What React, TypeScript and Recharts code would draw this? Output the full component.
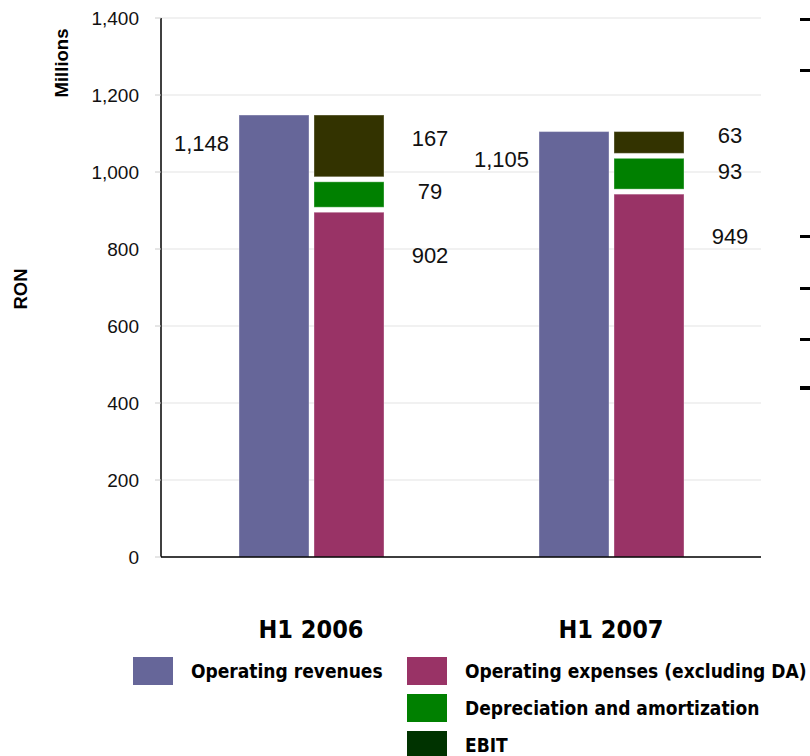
import React from "react";
import { BarChart, Bar, XAxis, YAxis, CartesianGrid, LabelList, Label } from "recharts";

const categories = ["H1 2006", "H1 2007"];
const revenues = [1148, 1105];
const opex = [902, 949];
const depreciation = [79, 93];
const ebit = [167, 63];
const yTicks = [0, 200, 400, 600, 800, 1000, 1200, 1400];

const data = categories.map((name, i) => ({
  name,
  revenues: revenues[i],
  opex: opex[i],
  da: depreciation[i],
  ebit: ebit[i],
}));

const legendItems = [
  { label: "Operating revenues", color: "#666699" },
  { label: "Operating expenses (excluding DA)", color: "#993366" },
  { label: "Depreciation and amortization", color: "#008000" },
  { label: "EBIT", color: "#003300" },
];

const sans = '"Liberation Sans", Arial, sans-serif';
const cond = '"DejaVu Sans Condensed", "DejaVu Sans", sans-serif';
const fmt = (v: number) => v.toLocaleString("en-US");

// stacked segments are separated by a white gap, so trim the shared edges
const segment = (top: number, bottom: number) => (props: any) => {
  const { x, y, width, height, fill } = props;
  return (
    <rect
      x={x}
      y={y + top}
      width={width}
      height={Math.max(0, height - top - bottom)}
      fill={fill}
      stroke="rgba(255,255,255,0.35)"
      strokeWidth={1}
    />
  );
};

const revenueLabel = (props: any) => {
  const { x, y, value } = props;
  return (
    <text x={x - 10} y={y + 30} textAnchor="end" dominantBaseline="middle" fontFamily={sans} fontSize={22} fill="#111">
      {fmt(value)}
    </text>
  );
};

const sideLabel = (dy: (y: number, h: number) => number) => (props: any) => {
  const { x, y, width, height, value } = props;
  return (
    <text x={x + width + 46} y={dy(y, height)} textAnchor="middle" dominantBaseline="middle" fontFamily={sans} fontSize={22} fill="#111">
      {fmt(value)}
    </text>
  );
};

const axisTitles = () => (
  <g fontFamily={sans} fontWeight="bold" fontSize={18.5} fill="#000">
    <text x={63} y={63} transform="rotate(-90 63 63)" textAnchor="middle" dominantBaseline="middle">
      Millions
    </text>
    <text x={22} y={289} transform="rotate(-90 22 289)" textAnchor="middle" dominantBaseline="middle">
      RON
    </text>
  </g>
);

const dashes = [
  { top: 18, h: 3 },
  { top: 69, h: 3 },
  { top: 235, h: 3 },
  { top: 287, h: 3 },
  { top: 338, h: 3 },
  { top: 386, h: 4 },
];

export default function App() {
  return (
    <div style={{ position: "absolute", left: 0, top: 0, width: 810, height: 756, background: "#fff", overflow: "hidden" }}>
      <BarChart
        width={810}
        height={756}
        data={data}
        margin={{ top: 18, right: 49, left: 101, bottom: 0 }}
        barCategoryGap={78}
        barGap={5}
      >
        <CartesianGrid vertical={false} stroke="#e3e3e3" />
        <XAxis
          dataKey="name"
          height={199}
          tickLine={false}
          tickMargin={57}
          axisLine={{ stroke: "#000", strokeWidth: 1.5 }}
          tick={{ fontFamily: cond, fontSize: 25, fontWeight: "bold", fill: "#000" }}
        />
        <YAxis
          width={60}
          domain={[0, 1400]}
          ticks={yTicks}
          tickFormatter={fmt}
          tickSize={6}
          tickMargin={16}
          tickLine={{ stroke: "#ccc" }}
          axisLine={{ stroke: "#000", strokeWidth: 1.5 }}
          tick={{ fontFamily: sans, fontSize: 19, fill: "#111" }}
        >
          <Label content={axisTitles} />
        </YAxis>
        <Bar dataKey="revenues" stackId="a" fill="#666699" shape={segment(0, 0)} isAnimationActive={false}>
          <LabelList dataKey="revenues" content={revenueLabel} />
        </Bar>
        <Bar dataKey="opex" stackId="b" fill="#993366" shape={segment(2.5, 0)} isAnimationActive={false}>
          <LabelList dataKey="opex" content={sideLabel((y) => y + 47)} />
        </Bar>
        <Bar dataKey="da" stackId="b" fill="#008000" shape={segment(2.5, 2.5)} isAnimationActive={false}>
          <LabelList dataKey="da" content={sideLabel((y, h) => y + h / 2 - 1)} />
        </Bar>
        <Bar dataKey="ebit" stackId="b" fill="#333300" shape={segment(0, 2.5)} isAnimationActive={false}>
          <LabelList dataKey="ebit" content={sideLabel((y, h) => y + h / 2 - 7)} />
        </Bar>
      </BarChart>

      <div style={{ position: "absolute", left: 133, top: 657, fontFamily: cond, fontStretch: "condensed", fontWeight: "bold", fontSize: 19, color: "#000" }}>
        {legendItems.map((item, i) => {
          const col = i === 0 ? 0 : 274;
          const row = i === 0 ? 0 : i - 1;
          return (
            <div key={item.label} style={{ position: "absolute", left: col, top: row * 37, display: "flex", alignItems: "center", whiteSpace: "nowrap", height: 28 }}>
              <div style={{ width: 40, height: 28, background: item.color }} />
              <span style={{ marginLeft: 18 }}>{item.label}</span>
            </div>
          );
        })}
      </div>

      {dashes.map((d, i) => (
        <div key={i} style={{ position: "absolute", left: 800, top: d.top, width: 10, height: d.h, background: "#000" }} />
      ))}
    </div>
  );
}
